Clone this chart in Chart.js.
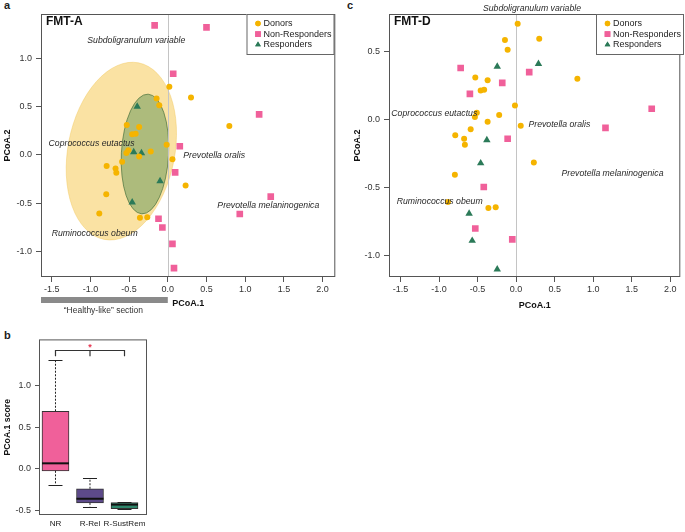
<!DOCTYPE html>
<html>
<head>
<meta charset="utf-8">
<script src="https://cdn.jsdelivr.net/npm/chart.js@4.4.1/dist/chart.umd.min.js"></script>
<style>
  body { margin: 0; background: #fff; width: 685px; height: 532px; position: relative; overflow: hidden; font-family: 'Liberation Sans', Arial, sans-serif; }
  canvas { position: absolute; }
  .tag { position: absolute; font-weight: bold; font-size: 11px; color: #222; }
</style>
</head>
<body>
<div class="tag" style="left:4px;top:-1px">a</div>
<div class="tag" style="left:347px;top:-1px">c</div>
<div class="tag" style="left:4px;top:329px">b</div>
<canvas id="chartA" width="340" height="320" style="left:0;top:0"></canvas>
<canvas id="chartC" width="345" height="320" style="left:340px;top:0"></canvas>
<canvas id="chartB" width="160" height="202" style="left:0;top:330px"></canvas>
<script>
const FONT = "'Liberation Sans', Arial, sans-serif";
Chart.defaults.font.family = FONT;
Chart.defaults.color = '#333';

// tick labels
const xTicks = [-1.5, -1.0, -0.5, 0.0, 0.5, 1.0, 1.5, 2.0];
const yTicksA = [-1.0, -0.5, 0.0, 0.5, 1.0];
const yTicksC = [-1.0, -0.5, 0.0, 0.5];
const yTicksB = [-0.5, 0.0, 0.5, 1.0];
const groups = ['Donors', 'Non-Responders', 'Responders'];

// donors (same in both panels)
const donorX = [0.02, 0.30, -0.145, -0.11, 0.795, -0.53, -0.37, -0.46, -0.415, -0.015, -0.51, -0.535,
  -0.22, -0.37, 0.06, -0.59, -0.79, -0.675, -0.665, 0.23, -0.795, -0.885, -0.36, -0.265];
const donorY = [0.705, 0.595, 0.585, 0.515, 0.30, 0.31, 0.29, 0.215, 0.22, 0.105, 0.05, 0.02,
  0.035, -0.015, -0.045, -0.07, -0.115, -0.14, -0.185, -0.315, -0.405, -0.605, -0.65, -0.645];

// FMT-A
const nrAX = [-0.17, 0.50, 0.07, 1.18, 0.155, 0.095, 1.33, 0.93, -0.12, -0.07, 0.06, 0.08];
const nrAY = [1.34, 1.32, 0.84, 0.42, 0.09, -0.18, -0.43, -0.61, -0.66, -0.75, -0.92, -1.17];
const rAX = [-0.395, -0.44, -0.34, -0.10, -0.46];
const rAY = [0.50, 0.03, 0.02, -0.27, -0.49];

// FMT-D
const nrCX = [-0.72, 0.17, -0.18, -0.60, 1.76, 1.16, -0.11, -0.42, -0.53, -0.05];
const nrCY = [0.38, 0.35, 0.27, 0.19, 0.08, -0.06, -0.14, -0.495, -0.80, -0.88];
const rCX = [-0.245, 0.29, -0.38, -0.46, -0.61, -0.57, -0.245];
const rCY = [0.39, 0.41, -0.15, -0.32, -0.69, -0.89, -1.10];

// boxplot PCoA.1 score
const boxCats = ['NR', 'R-Rel', 'R-SustRem'];
const boxQ1 = [-0.025, -0.41, -0.48];
const boxMed = [0.065, -0.36, -0.43];
const boxQ3 = [0.69, -0.24, -0.405];
const whiskLo = [-0.19, -0.455, -0.48];
const whiskHi = [1.30, -0.115, -0.405];

const colDonor = '#f5b400';
const colNR = '#f0609a';
const colR = '#2b7a58';
const boxColors = ['#f0609a', '#5d4a8a', '#2f876b'];

const pts = (xs, ys) => xs.map((v, i) => ({ x: v, y: ys[i] }));

const legendItems = [
  { style: 'circle', r: 2.7, color: colDonor },
  { style: 'rect', r: 4, color: colNR },
  { style: 'triangle', r: 3.3, color: colR }
];

const decor = {
  id: 'decor',
  beforeDatasetsDraw(chart, args, o) {
    const { ctx, chartArea: a, scales: { x, y } } = chart;
    (o.ellipses || []).forEach(e => {
      const cx = x.getPixelForValue(e.cx), cy = y.getPixelForValue(e.cy);
      const rx = Math.abs(x.getPixelForValue(e.cx + e.rx) - cx);
      const ry = Math.abs(y.getPixelForValue(e.cy + e.ry) - cy);
      ctx.save();
      ctx.beginPath();
      ctx.ellipse(cx, cy, rx, ry, e.rot * Math.PI / 180, 0, Math.PI * 2);
      ctx.fillStyle = e.fill;
      ctx.fill();
      if (e.stroke) { ctx.strokeStyle = e.stroke; ctx.lineWidth = 0.8; ctx.stroke(); }
      ctx.restore();
    });
    if (o.zeroLine) {
      const px = Math.round(x.getPixelForValue(0)) + 0.5;
      ctx.save();
      ctx.strokeStyle = '#c4c4c4';
      ctx.lineWidth = 1;
      ctx.beginPath(); ctx.moveTo(px, a.top); ctx.lineTo(px, a.bottom); ctx.stroke();
      ctx.restore();
    }
  },
  afterDraw(chart, args, o) {
    const { ctx, chartArea: a, scales: { x, y } } = chart;
    ctx.save();
    ctx.strokeStyle = '#555';
    ctx.lineWidth = 1;
    ctx.strokeRect(a.left + 0.5, a.top + 0.5, a.width - 1, a.height - 1);

    ctx.textBaseline = 'middle';
    // species labels
    ctx.fillStyle = '#2a2a2a';
    ctx.font = 'italic 8.7px ' + FONT;
    (o.labels || []).forEach(l => {
      ctx.textAlign = 'left';
      ctx.fillText(l.text, x.getPixelForValue(l.x), y.getPixelForValue(l.y));
    });

    if (o.panel) {
      ctx.font = 'bold 12px ' + FONT;
      ctx.fillStyle = '#111';
      ctx.textAlign = 'left';
      ctx.fillText(o.panel, a.left + 5, a.top + 8);
    }

    // legend
    if (o.legend) {
      const L = o.legend;
      ctx.fillStyle = '#fff';
      ctx.fillRect(L.x, L.y, L.w, L.h);
      ctx.strokeStyle = '#666';
      ctx.strokeRect(L.x + 0.5, L.y + 0.5, L.w, L.h);
      ctx.font = '9px ' + FONT;
      groups.forEach((g, i) => {
        const it = legendItems[i];
        const yy = L.y + 9.5 + i * 10.6;
        ctx.fillStyle = it.color;
        Chart.helpers.drawPoint(ctx, { pointStyle: it.style, radius: it.r, rotation: 0, borderWidth: 0 }, L.x + 11.5, yy);
        ctx.fill();
        ctx.fillStyle = '#222';
        ctx.textAlign = 'left';
        ctx.fillText(g, L.x + 17, yy);
      });
    }

    // axis titles
    ctx.fillStyle = '#111';
    ctx.font = 'bold 9px ' + FONT;
    if (o.xTitle) {
      ctx.textAlign = 'center';
      ctx.fillText(o.xTitle, (a.left + a.right) / 2, o.xTitleY);
    }
    if (o.yTitle) {
      ctx.save();
      ctx.translate(o.yTitleX, (a.top + a.bottom) / 2);
      ctx.rotate(-Math.PI / 2);
      ctx.textAlign = 'center';
      ctx.fillText(o.yTitle, 0, 0);
      ctx.restore();
    }

    // "healthy-like" bar
    if (o.healthy) {
      const x0 = x.getPixelForValue(0);
      ctx.fillStyle = '#8a8a8a';
      ctx.fillRect(a.left, o.healthy.y, x0 - a.left, 6);
      ctx.fillStyle = '#333';
      ctx.font = '8.5px ' + FONT;
      ctx.textAlign = 'center';
      ctx.fillText('\u201CHealthy-like\u201D section', (a.left + x0) / 2 - 1, o.healthy.y + 14);
    }
    ctx.restore();
  }
};

function scatterPanel(id, cfg) {
  return new Chart(document.getElementById(id), {
    type: 'scatter',
    data: {
      datasets: [
        { label: groups[0], data: pts(donorX, donorY), pointStyle: 'circle', radius: 3, backgroundColor: colDonor, borderWidth: 0 },
        { label: groups[1], data: pts(cfg.nrX, cfg.nrY), pointStyle: 'rect', radius: 4.7, backgroundColor: colNR, borderWidth: 0 },
        { label: groups[2], data: pts(cfg.rX, cfg.rY), pointStyle: 'triangle', radius: 4.3, backgroundColor: colR, borderWidth: 0 }
      ]
    },
    options: {
      responsive: false,
      animation: false,
      layout: { padding: cfg.pad },
      plugins: { legend: { display: false }, tooltip: { enabled: false }, decor: cfg.decor },
      scales: {
        x: {
          type: 'linear', min: cfg.xMin, max: cfg.xMax,
          afterFit: s => { s.height = 30; },
          afterBuildTicks: s => { s.ticks = xTicks.map(v => ({ value: v })); },
          ticks: { callback: v => v.toFixed(1), font: { size: 9 }, color: '#333', padding: 2, maxRotation: 0, autoSkip: false },
          grid: { drawOnChartArea: false, tickLength: 5, color: '#555' },
          border: { display: false }
        },
        y: {
          type: 'linear', min: cfg.yMin, max: cfg.yMax,
          afterFit: s => { s.width = cfg.yW; },
          afterBuildTicks: s => { s.ticks = cfg.yTicks.map(v => ({ value: v })); },
          ticks: { callback: v => v.toFixed(1), font: { size: 9 }, color: '#333', padding: 4, autoSkip: false },
          grid: { drawOnChartArea: false, tickLength: 5, color: '#555' },
          border: { display: false }
        }
      }
    },
    plugins: [decor]
  });
}

scatterPanel('chartA', {
  nrX: nrAX, nrY: nrAY, rX: rAX, rY: rAY,
  xMin: -1.638, xMax: 2.164, yMin: -1.262, yMax: 1.458, yTicks: yTicksA, yW: 41,
  pad: { left: 0, right: 4, top: 14, bottom: 13 },
  decor: {
    panel: 'FMT-A', zeroLine: true,
    ellipses: [
      { cx: -0.60, cy: 0.04, rx: 0.69, ry: 0.93, rot: 11, fill: 'rgba(245,190,50,0.45)', stroke: 'rgba(240,195,80,0.5)' },
      { cx: -0.295, cy: 0.01, rx: 0.305, ry: 0.62, rot: 3, fill: 'rgba(65,130,70,0.42)', stroke: 'rgba(40,90,40,0.7)' }
    ],
    labels: [
      { text: 'Subdoligranulum variable', x: -1.04, y: 1.18 },
      { text: 'Coprococcus eutactus', x: -1.54, y: 0.12 },
      { text: 'Prevotella oralis', x: 0.20, y: -0.01 },
      { text: 'Prevotella melaninogenica', x: 0.64, y: -0.52 },
      { text: 'Ruminococcus obeum', x: -1.50, y: -0.81 }
    ],
    legend: { x: 246.5, y: 14, w: 87, h: 40 },
    xTitle: 'PCoA.1', xTitleY: 304, yTitle: 'PCoA.2', yTitleX: 8,
    healthy: { y: 297 }
  }
});

scatterPanel('chartC', {
  nrX: nrCX, nrY: nrCY, rX: rCX, rY: rCY,
  xMin: -1.65, xMax: 2.131, yMin: -1.157, yMax: 0.777, yTicks: yTicksC, yW: 49,
  pad: { left: 0, right: 1, top: 14, bottom: 13 },
  decor: {
    panel: 'FMT-D', zeroLine: true,
    labels: [
      { text: 'Subdoligranulum variable', x: -0.43, y: 0.82 },
      { text: 'Coprococcus eutactus', x: -1.62, y: 0.044 },
      { text: 'Prevotella oralis', x: 0.16, y: -0.037 },
      { text: 'Prevotella melaninogenica', x: 0.59, y: -0.40 },
      { text: 'Ruminococcus obeum', x: -1.55, y: -0.605 }
    ],
    legend: { x: 256, y: 14, w: 87, h: 40 },
    xTitle: 'PCoA.1', xTitleY: 306, yTitle: 'PCoA.2', yTitleX: 18
  }
});

// boxplot
const boxDecor = {
  id: 'boxDecor',
  afterDatasetsDraw(chart) {
    const { ctx, chartArea: a, scales: { x, y } } = chart;
    ctx.save();
    boxCats.forEach((c, i) => {
      const px = x.getPixelForValue(i + 1);
      // whiskers
      ctx.strokeStyle = '#222';
      ctx.lineWidth = 1;
      ctx.setLineDash([2, 1.5]);
      ctx.beginPath();
      ctx.moveTo(px, y.getPixelForValue(boxQ3[i])); ctx.lineTo(px, y.getPixelForValue(whiskHi[i]));
      ctx.moveTo(px, y.getPixelForValue(boxQ1[i])); ctx.lineTo(px, y.getPixelForValue(whiskLo[i]));
      ctx.stroke();
      ctx.setLineDash([]);
      ctx.beginPath();
      [whiskHi[i], whiskLo[i]].forEach(v => {
        const py = Math.round(y.getPixelForValue(v)) + 0.5;
        ctx.moveTo(px - 7, py); ctx.lineTo(px + 7, py);
      });
      ctx.stroke();
      // median
      ctx.lineWidth = 2;
      ctx.strokeStyle = '#111';
      ctx.beginPath();
      const my = y.getPixelForValue(boxMed[i]);
      ctx.moveTo(px - 13.5, my); ctx.lineTo(px + 13.5, my);
      ctx.stroke();
    });
    // significance bracket NR vs R-SustRem
    const x1 = x.getPixelForValue(1), x2 = x.getPixelForValue(2), x3 = x.getPixelForValue(3);
    const yb = Math.round(y.getPixelForValue(1.43)) + 0.5, yt = y.getPixelForValue(1.35);
    ctx.lineWidth = 1.2;
    ctx.strokeStyle = '#333';
    ctx.beginPath();
    ctx.moveTo(x1, yt); ctx.lineTo(x1, yb); ctx.lineTo(x3, yb); ctx.lineTo(x3, yt);
    ctx.moveTo(x2, yb); ctx.lineTo(x2, yt);
    ctx.stroke();
    ctx.fillStyle = '#e8334f';
    ctx.font = 'bold 9px ' + FONT;
    ctx.textAlign = 'center';
    ctx.textBaseline = 'middle';
    ctx.fillText('*', x2, y.getPixelForValue(1.48) + 2);
    // frame
    ctx.strokeStyle = '#555';
    ctx.lineWidth = 1;
    ctx.strokeRect(a.left + 0.5, a.top + 0.5, a.width - 1, a.height - 1);
    // y title
    ctx.fillStyle = '#111';
    ctx.font = 'bold 8.7px ' + FONT;
    ctx.translate(8, (a.top + a.bottom) / 2);
    ctx.rotate(-Math.PI / 2);
    ctx.fillText('PCoA.1 score', 0, 0);
    ctx.restore();
  }
};

new Chart(document.getElementById('chartB'), {
  type: 'bar',
  data: {
    datasets: [{
      data: boxCats.map((c, i) => ({ x: i + 1, y: [boxQ1[i], boxQ3[i]] })),
      backgroundColor: boxColors,
      borderColor: '#333',
      borderWidth: 1,
      borderSkipped: false,
      barThickness: 27
    }]
  },
  options: {
    responsive: false,
    animation: false,
    layout: { padding: { left: 0, right: 13, top: 6, bottom: 0 } },
    plugins: { legend: { display: false }, tooltip: { enabled: false } },
    scales: {
      x: {
        type: 'linear', min: 0.522, max: 3.652, offset: false,
        afterFit: s => { s.height = 17; },
        afterBuildTicks: s => { s.ticks = boxCats.map((c, i) => ({ value: i + 1 })); },
        ticks: { callback: v => boxCats[v - 1], font: { size: 8.1 }, color: '#222', padding: 4, maxRotation: 0, autoSkip: false },
        grid: { display: false, drawTicks: false },
        border: { display: false }
      },
      y: {
        type: 'linear', min: -0.555, max: 1.552,
        afterFit: s => { s.width = 39; },
        afterBuildTicks: s => { s.ticks = yTicksB.map(v => ({ value: v })); },
        ticks: { callback: v => v.toFixed(1), font: { size: 9 }, color: '#333', padding: 4, autoSkip: false },
        grid: { drawOnChartArea: false, tickLength: 4, color: '#555' },
        border: { display: false }
      }
    }
  },
  plugins: [boxDecor]
});
</script>
</body>
</html>
